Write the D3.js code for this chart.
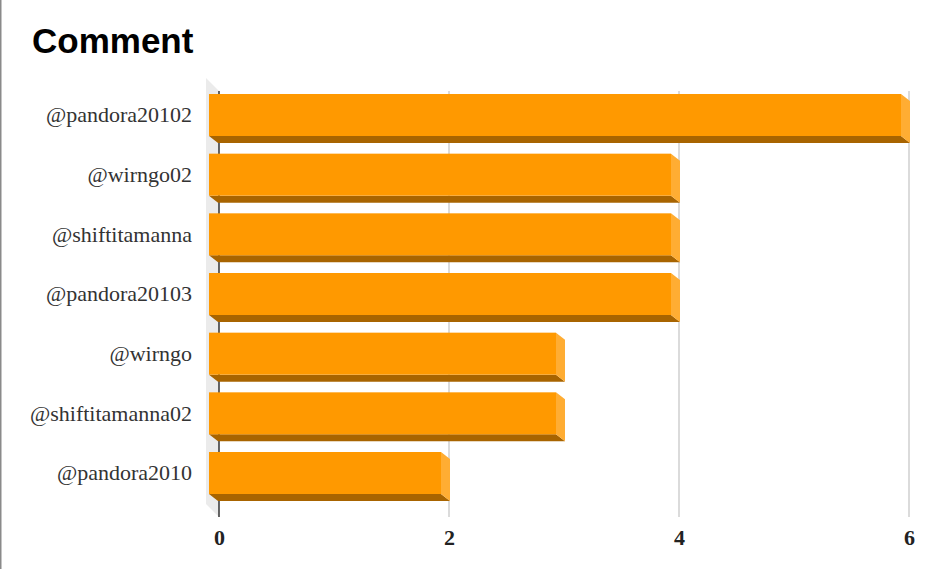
<!DOCTYPE html>
<html><head><meta charset="utf-8">
<script src="https://cdn.jsdelivr.net/npm/d3@7"></script>
<style>html,body{margin:0;padding:0;background:#fff;}svg{display:block;}</style>
</head><body>
<svg id="c" width="934" height="569"></svg>
<script>
const categories = ["@pandora20102","@wirngo02","@shiftitamanna","@pandora20103","@wirngo","@shiftitamanna02","@pandora2010"];
const values = [6,4,4,4,3,3,2];
const xTicks = [0,2,4,6];
const title = "Comment";

const svg = d3.select("#c");
const W = 934, H = 569;
const plotTop = 91, plotBottom = 517;
const dx = 9, dy = 7;

svg.append("line").attr("x1",0.75).attr("x2",0.75).attr("y1",0).attr("y2",H)
  .attr("stroke","#8a8a8a").attr("stroke-width",1.5);

svg.append("text").attr("x",32).attr("y",53).text(title)
  .attr("font-family","'Liberation Sans', Arial, sans-serif").attr("font-weight","bold")
  .attr("font-size",35).attr("fill","#000");

const x = d3.scaleLinear().domain([0,6]).range([219,909]);
const y = d3.scaleBand().domain(categories).range([86,502]).paddingInner(0.296).paddingOuter(0.134);

const x0 = x(0);
// wall
svg.append("polygon")
  .attr("points",[[x0-13,plotTop-13],[x0,plotTop],[x0,plotBottom],[x0-13,plotBottom-13]].map(p=>p.join(",")).join(" "))
  .attr("fill","#ebebeb");

// gridlines
svg.append("g").selectAll("line").data(xTicks.filter(t=>t>0)).join("line")
  .attr("x1",d=>x(d)).attr("x2",d=>x(d)).attr("y1",plotTop).attr("y2",plotBottom)
  .attr("stroke","#cfcfcf").attr("stroke-width",1.5);

// axis line
svg.append("line").attr("x1",x0).attr("x2",x0).attr("y1",plotTop).attr("y2",plotBottom)
  .attr("stroke","#333").attr("stroke-width",1.5);

// tick labels via axis
const axis = d3.axisBottom(x).tickValues(xTicks).tickSize(0).tickPadding(0).tickFormat(d3.format("d"));
const ag = svg.append("g").attr("transform",`translate(0,${plotBottom+28})`).call(axis);
ag.select(".domain").remove();
ag.selectAll("text").attr("font-family","'Liberation Serif', 'Times New Roman', serif")
  .attr("font-weight","bold").attr("font-size",22).attr("fill","#222").attr("dy","0");

// bars
const bars = svg.append("g").selectAll("g").data(categories).join("g");
bars.each(function(c,i){
  const g = d3.select(this);
  const v = values[i];
  const ft = y(c), fb = y(c)+y.bandwidth();
  const fx0 = x0-10, fx1 = x(v)-8;
  g.append("polygon").attr("points",[[fx0,fb],[fx1,fb],[fx1+dx,fb+dy],[fx0+dx,fb+dy]].map(p=>p.join(",")).join(" "))
    .attr("fill","#a86400");
  g.append("polygon").attr("points",[[fx1,ft],[fx1+dx,ft+dy],[fx1+dx,fb+dy],[fx1,fb]].map(p=>p.join(",")).join(" "))
    .attr("fill","#ffad33");
  g.append("rect").attr("x",fx0).attr("y",ft).attr("width",fx1-fx0).attr("height",fb-ft).attr("fill","#ff9900");
});

// category labels
svg.append("g").selectAll("text").data(categories).join("text")
  .attr("x",192).attr("y",d=>y(d)+y.bandwidth()/2).attr("dy","0.33em")
  .attr("text-anchor","end").text(d=>d)
  .attr("font-family","'Liberation Serif', 'Times New Roman', serif").attr("font-size",22).attr("fill","#333");
</script>
</body></html>
